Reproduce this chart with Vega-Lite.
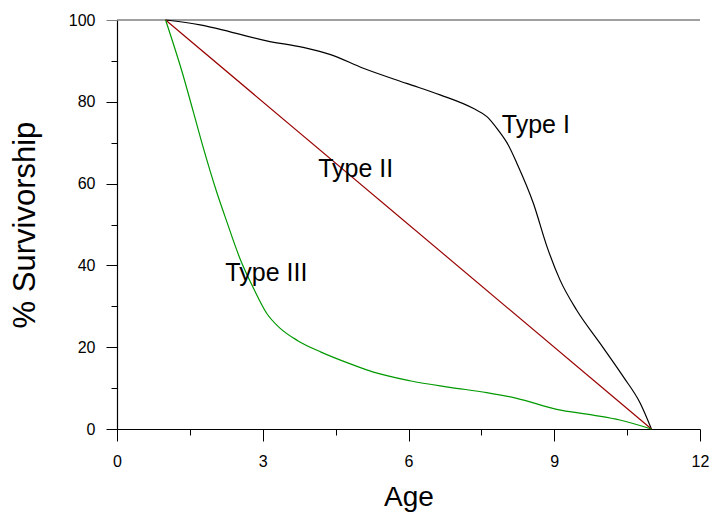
{
  "$schema": "https://vega.github.io/schema/vega-lite/v6.json",
  "width": 583,
  "height": 409,
  "autosize": "none",
  "padding": {"left": 117, "top": 20, "right": 11, "bottom": 86},
  "background": "white",
  "config": {"view": {"stroke": null}, "font": "Liberation Sans"},
  "layer": [
    {
      "data": {"values": [{"y": 100}]},
      "mark": {"type": "rule", "color": "#808080", "strokeWidth": 1.6},
      "encoding": {"y": {"field": "y", "type": "quantitative", "scale": {"domain": [0, 100], "nice": false}}}
    },
    {
      "data": {
        "values": [
          {"type": "Type I", "age": 1, "surv": 100},
          {"type": "Type I", "age": 1.71, "surv": 98.8},
          {"type": "Type I", "age": 2.33, "surv": 97.1},
          {"type": "Type I", "age": 3.08, "surv": 94.9},
          {"type": "Type I", "age": 3.83, "surv": 93.3},
          {"type": "Type I", "age": 4.38, "surv": 91.6},
          {"type": "Type I", "age": 5.07, "surv": 88.2},
          {"type": "Type I", "age": 5.96, "surv": 84.5},
          {"type": "Type I", "age": 6.65, "surv": 81.7},
          {"type": "Type I", "age": 7.33, "surv": 78.4},
          {"type": "Type I", "age": 7.62, "surv": 76.3},
          {"type": "Type I", "age": 7.85, "surv": 73.0},
          {"type": "Type I", "age": 8.05, "surv": 69.5},
          {"type": "Type I", "age": 8.23, "surv": 65.0},
          {"type": "Type I", "age": 8.57, "surv": 55.2},
          {"type": "Type I", "age": 8.85, "surv": 44.6},
          {"type": "Type I", "age": 9.12, "surv": 36.4},
          {"type": "Type I", "age": 9.46, "surv": 29.1},
          {"type": "Type I", "age": 9.94, "surv": 21.0},
          {"type": "Type I", "age": 10.42, "surv": 12.8},
          {"type": "Type I", "age": 10.77, "surv": 6.3},
          {"type": "Type I", "age": 11, "surv": 0},
          {"type": "Type II", "age": 1, "surv": 100},
          {"type": "Type II", "age": 11, "surv": 0},
          {"type": "Type III", "age": 1, "surv": 100},
          {"type": "Type III", "age": 1.36, "surv": 86.5},
          {"type": "Type III", "age": 1.57, "surv": 77.6},
          {"type": "Type III", "age": 1.78, "surv": 68.6},
          {"type": "Type III", "age": 2.05, "surv": 58.0},
          {"type": "Type III", "age": 2.26, "surv": 50.7},
          {"type": "Type III", "age": 2.53, "surv": 41.7},
          {"type": "Type III", "age": 2.81, "surv": 34.4},
          {"type": "Type III", "age": 3.08, "surv": 28.3},
          {"type": "Type III", "age": 3.36, "surv": 24.6},
          {"type": "Type III", "age": 3.72, "surv": 21.6},
          {"type": "Type III", "age": 4.2, "surv": 18.8},
          {"type": "Type III", "age": 4.83, "surv": 15.8},
          {"type": "Type III", "age": 5.28, "surv": 13.9},
          {"type": "Type III", "age": 6.03, "surv": 11.8},
          {"type": "Type III", "age": 6.85, "surv": 10.2},
          {"type": "Type III", "age": 7.61, "surv": 8.9},
          {"type": "Type III", "age": 8.23, "surv": 7.5},
          {"type": "Type III", "age": 9.05, "surv": 4.8},
          {"type": "Type III", "age": 9.8, "surv": 3.4},
          {"type": "Type III", "age": 10.35, "surv": 2.2},
          {"type": "Type III", "age": 11, "surv": 0}
        ]
      },
      "mark": {"type": "line", "strokeWidth": 1.2, "interpolate": "monotone"},
      "encoding": {
        "x": {
          "field": "age",
          "type": "quantitative",
          "scale": {"domain": [0, 12], "nice": false},
          "axis": {
            "title": "Age",
            "titleFontSize": 28,
            "titleFontWeight": "normal",
            "titleColor": "black",
            "titleX": 291.5,
            "titleY": 68,
            "titleBaseline": "middle",
            "values": [0, 1.5, 3, 4.5, 6, 7.5, 9, 10.5, 12],
            "labelExpr": "datum.value % 3 === 0 ? datum.label : ''",
            "labelFontSize": 16,
            "labelColor": "black",
            "labelPadding": 12,
            "labelFlush": false,
            "grid": false,
            "domainColor": "black",
            "domainWidth": 1.2,
            "tickColor": "black",
            "tickWidth": 1,
            "tickSize": {"condition": {"test": "datum.value % 3 === 0", "value": 12}, "value": 6}
          }
        },
        "y": {
          "field": "surv",
          "type": "quantitative",
          "scale": {"domain": [0, 100], "nice": false},
          "axis": {
            "title": "% Survivorship",
            "titleFontSize": 31,
            "titleFontWeight": "normal",
            "titleColor": "black",
            "titleX": -92,
            "titleY": 204.5,
            "titleBaseline": "middle",
            "values": [0, 10, 20, 30, 40, 50, 60, 70, 80, 90, 100],
            "labelExpr": "datum.value % 20 === 0 ? datum.label : ''",
            "labelFontSize": 16,
            "labelColor": "black",
            "labelPadding": 11,
            "labelFlush": false,
            "grid": false,
            "domainColor": "black",
            "domainWidth": 1.2,
            "tickColor": {"condition": {"test": "datum.value === 100", "value": "#808080"}, "value": "black"},
            "tickWidth": 1,
            "tickSize": {"condition": {"test": "datum.value % 20 === 0", "value": 11}, "value": 6}
          }
        },
        "color": {
          "field": "type",
          "type": "nominal",
          "scale": {"domain": ["Type I", "Type II", "Type III"], "range": ["#000000", "#990000", "#009900"]},
          "legend": null
        }
      }
    },
    {
      "data": {
        "values": [
          {"label": "Type I", "age": 7.92, "surv": 72.3},
          {"label": "Type II", "age": 4.14, "surv": 61.7},
          {"label": "Type III", "age": 2.23, "surv": 36.3}
        ]
      },
      "mark": {"type": "text", "align": "left", "baseline": "alphabetic", "fontSize": 25, "color": "black"},
      "encoding": {
        "x": {"field": "age", "type": "quantitative"},
        "y": {"field": "surv", "type": "quantitative"},
        "text": {"field": "label"}
      }
    }
  ]
}
